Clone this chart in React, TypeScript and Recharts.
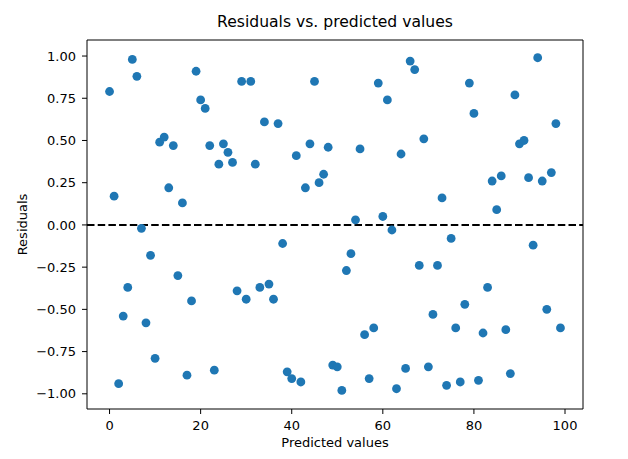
import {
  ScatterChart,
  Scatter,
  XAxis,
  YAxis,
  ReferenceLine,
} from 'recharts';

// predicted values 0..99 and the residual for each
const predicted = Array.from({ length: 100 }, (_, i) => i);
const residuals = [
  0.79, 0.17, -0.94, -0.54, -0.37, 0.98, 0.88, -0.02, -0.58, -0.18,
  -0.79, 0.49, 0.52, 0.22, 0.47, -0.3, 0.13, -0.89, -0.45, 0.91,
  0.74, 0.69, 0.47, -0.86, 0.36, 0.48, 0.43, 0.37, -0.39, 0.85,
  -0.44, 0.85, 0.36, -0.37, 0.61, -0.35, -0.44, 0.6, -0.11, -0.87,
  -0.91, 0.41, -0.93, 0.22, 0.48, 0.85, 0.25, 0.3, 0.46, -0.83,
  -0.84, -0.98, -0.27, -0.17, 0.03, 0.45, -0.65, -0.91, -0.61, 0.84,
  0.05, 0.74, -0.03, -0.97, 0.42, -0.85, 0.97, 0.92, -0.24, 0.51,
  -0.84, -0.53, -0.24, 0.16, -0.95, -0.08, -0.61, -0.93, -0.47, 0.84,
  0.66, -0.92, -0.64, -0.37, 0.26, 0.09, 0.29, -0.62, -0.88, 0.77,
  0.48, 0.5, 0.28, -0.12, 0.99, 0.26, -0.5, 0.31, 0.6, -0.61,
];
const xTicks = [0, 20, 40, 60, 80, 100];
const yTicks = [-1, -0.75, -0.5, -0.25, 0, 0.25, 0.5, 0.75, 1];
const xDomain = [-4.95, 103.95];
const yDomain = [-1.09, 1.095];

const points = predicted.map((x, i) => ({ x, y: residuals[i] }));

const font = 'DejaVu Sans, sans-serif';
const tickStyle = { fill: '#000', fontSize: 13, fontFamily: font };

const Dot = (props: any) => (
  <circle cx={props.cx} cy={props.cy} r={4.4} fill="#1f77b4" />
);

export default function App() {
  return (
    <div style={{ position: 'absolute', left: 0, top: 0, width: 628, height: 459, background: '#fff' }}>
      <div
        style={{
          position: 'absolute',
          left: 87,
          width: 496,
          top: 13,
          textAlign: 'center',
          fontFamily: font,
          fontSize: 15.6,
          color: '#000',
        }}
      >
        Residuals vs. predicted values
      </div>
      <ScatterChart width={628} height={459} margin={{ top: 40, right: 45, bottom: 0, left: 0 }}>
        <XAxis
          type="number"
          dataKey="x"
          domain={xDomain}
          ticks={xTicks}
          allowDataOverflow
          height={50}
          tickSize={5}
          tickMargin={7}
          stroke="#000"
          tick={tickStyle}
          label={{
            content: (p: any) => (
              <text
                x={p.viewBox.x + p.viewBox.width / 2}
                y={p.viewBox.y + 38}
                textAnchor="middle"
                fontFamily={font}
                fontSize={13}
                fill="#000"
              >
                Predicted values
              </text>
            ),
          }}
        />
        <YAxis
          type="number"
          dataKey="y"
          domain={yDomain}
          ticks={yTicks}
          allowDataOverflow
          width={87}
          tickSize={5}
          tickMargin={6}
          stroke="#000"
          tick={tickStyle}
          tickFormatter={(v: number) => v.toFixed(2).replace('-', '\u2212')}
          label={{
            content: (p: any) => {
              const cx = p.viewBox.x + 22.5;
              const cy = p.viewBox.y + p.viewBox.height / 2;
              return (
                <text
                  x={cx}
                  y={cy}
                  transform={`rotate(-90 ${cx} ${cy})`}
                  textAnchor="middle"
                  dominantBaseline="central"
                  fontFamily={font}
                  fontSize={13}
                  fill="#000"
                >
                  Residuals
                </text>
              );
            },
          }}
        />
        {/* top and right spines */}
        <ReferenceLine y={yDomain[1]} stroke="#000" strokeWidth={1} ifOverflow="visible" />
        <ReferenceLine x={xDomain[1]} stroke="#000" strokeWidth={1} ifOverflow="visible" />
        <Scatter data={points} shape={Dot} isAnimationActive={false} />
        <ReferenceLine y={0} stroke="#000" strokeWidth={2} strokeDasharray="7.5 3.2" />
      </ScatterChart>
    </div>
  );
}
